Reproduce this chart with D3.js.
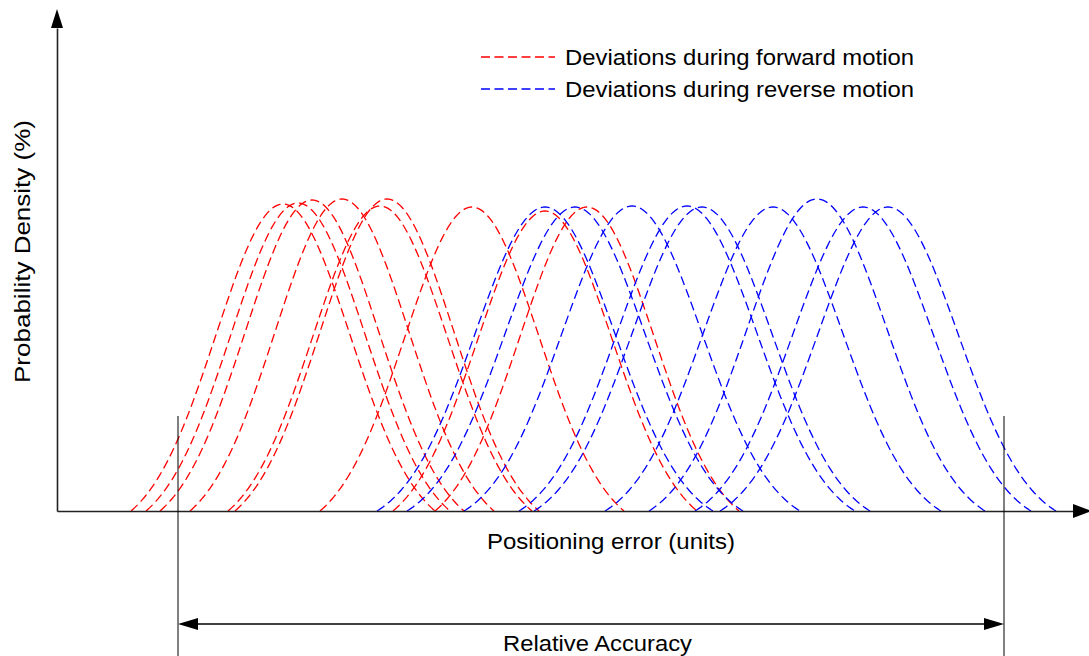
<!DOCTYPE html>
<html>
<head>
<meta charset="utf-8">
<script src="https://cdn.jsdelivr.net/npm/d3@7"></script>
<style>
  body { margin: 0; background: #fff; }
  svg { display: block; font-family: "Liberation Sans", Arial, sans-serif; }
</style>
</head>
<body>
<div id="chart"></div>
<script>
// positioning error (units) at which each deviation curve peaks, and its peak density (%)
const forwardMeans  = [226, 241, 255, 285, 323, 330, 415, 488, 530];
const forwardPeaks  = [61.4, 61.6, 62.2, 62.4, 61.0, 62.4, 60.8, 60.0, 60.8];
const reverseMeans  = [488, 518, 575, 630, 645, 716, 760, 806, 831];
const reversePeaks  = [60.8, 60.8, 61.0, 61.0, 60.8, 60.8, 62.4, 60.8, 60.8];
// spread of each curve and how far its tails are drawn
const forwardSpread = { sigma: 67, reach: 152 };
const reverseSpread = { sigma: 70, reach: 168 };
// relative accuracy bounds (units)
const accuracyBounds = [121, 947];

const legendLabels = ["Deviations during forward motion", "Deviations during reverse motion"];
const colors = ["#ff0000", "#0000ff"];

const width = 1089, height = 656;

const svg = d3.select("#chart").append("svg")
    .attr("width", width)
    .attr("height", height);

const x = d3.scaleLinear().domain([0, 1000]).range([57, 1057]);
const y = d3.scaleLinear().domain([0, 100]).range([511, 11]);

// normalised gaussian bump that lands on the baseline at +-reach
function bump(mean, peak, spread) {
    const g = dx => Math.exp(-dx * dx / (2 * spread.sigma * spread.sigma));
    const floor = g(spread.reach);
    return d3.range(-spread.reach, spread.reach + 0.5, 2).map(dx => [
        mean + dx,
        peak * (g(dx) - floor) / (1 - floor)
    ]);
}

const line = d3.line()
    .x(d => x(d[0]))
    .y(d => y(d[1]));

const series = [
    { means: forwardMeans, peaks: forwardPeaks, spread: forwardSpread, color: colors[0] },
    { means: reverseMeans, peaks: reversePeaks, spread: reverseSpread, color: colors[1] }
];

series.forEach(s => {
    svg.append("g")
        .selectAll("path")
        .data(s.means.map((m, i) => bump(m, s.peaks[i], s.spread)))
        .join("path")
        .attr("d", line)
        .attr("fill", "none")
        .attr("stroke", s.color)
        .attr("stroke-width", 1.3)
        .attr("stroke-dasharray", "9,4.5");
});

// axes with arrow heads
const axisColor = "#222";
const xAxis = svg.append("g")
    .attr("transform", `translate(0,${y(0)})`)
    .call(d3.axisBottom(x.copy().domain([0, 1016]).range([57, 1075])).tickValues([]).tickSizeOuter(0));
xAxis.select(".domain").attr("stroke", axisColor).attr("stroke-width", 1.6);

const yAxis = svg.append("g")
    .attr("transform", `translate(${x(0)},0)`)
    .call(d3.axisLeft(y.copy().range([511, 28])).tickValues([]).tickSizeOuter(0));
yAxis.select(".domain").attr("stroke", axisColor).attr("stroke-width", 1.6);

svg.append("path")
    .attr("d", `M${x(0) - 6},28 L${x(0)},9 L${x(0) + 6},28 Z`)
    .attr("fill", "#000");
svg.append("path")
    .attr("d", `M1073,${y(0) - 7} L1092,${y(0)} L1073,${y(0) + 7} Z`)
    .attr("fill", "#000");

svg.append("text")
    .attr("x", 487)
    .attr("y", 549)
    .attr("textLength", 248)
    .attr("lengthAdjust", "spacingAndGlyphs")
    .style("font-size", "22px")
    .text("Positioning error (units)");

svg.append("text")
    .attr("transform", "translate(30,383) rotate(-90)")
    .attr("textLength", 263)
    .attr("lengthAdjust", "spacingAndGlyphs")
    .style("font-size", "22px")
    .text("Probability Density (%)");

// relative accuracy span
svg.append("g")
    .selectAll("line")
    .data(accuracyBounds)
    .join("line")
    .attr("x1", d => x(d)).attr("x2", d => x(d))
    .attr("y1", 416).attr("y2", height)
    .attr("stroke", "#000")
    .attr("stroke-width", 1);

const ay = 624;
const [ax0, ax1] = accuracyBounds.map(x);
svg.append("line")
    .attr("x1", ax0 + 10).attr("x2", ax1 - 10)
    .attr("y1", ay).attr("y2", ay)
    .attr("stroke", "#000")
    .attr("stroke-width", 1.6);
svg.append("path")
    .attr("d", `M${ax0},${ay} L${ax0 + 20},${ay - 6} L${ax0 + 20},${ay + 6} Z
                M${ax1},${ay} L${ax1 - 20},${ay - 6} L${ax1 - 20},${ay + 6} Z`)
    .attr("fill", "#000");

svg.append("text")
    .attr("x", 503)
    .attr("y", 651)
    .attr("textLength", 189)
    .attr("lengthAdjust", "spacingAndGlyphs")
    .style("font-size", "22px")
    .text("Relative Accuracy");

// legend
const legend = svg.append("g")
    .attr("transform", "translate(481,57)");

const item = legend.selectAll("g")
    .data(legendLabels)
    .join("g")
    .attr("transform", (d, i) => `translate(0,${i * 32})`);

item.append("line")
    .attr("x1", 0).attr("x2", 74)
    .attr("stroke", (d, i) => colors[i])
    .attr("stroke-width", 1.3)
    .attr("stroke-dasharray", "9,4.5");

item.append("text")
    .attr("x", 84)
    .attr("y", 8)
    .attr("textLength", 349)
    .attr("lengthAdjust", "spacingAndGlyphs")
    .style("font-size", "22px")
    .text(d => d);
</script>
</body>
</html>
